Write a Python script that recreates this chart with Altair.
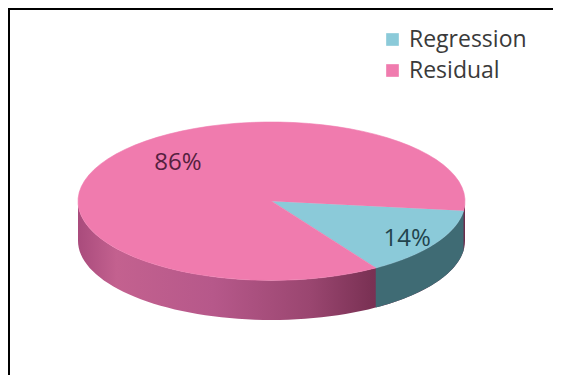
import altair as alt
import pandas as pd

# ---- data ----
names = ["Regression", "Residual"]
values = [14, 86]
top_colors = ["#8BCAD9", "#F07BAE"]
label_colors = ["#22444D", "#55213F"]

START_DEG = 7      # where the first slice starts (clockwise from 3 o'clock)
N = 72             # points per arc
DEPTH = 0.5        # thickness of the 3D side, in y-radius units

slices = pd.DataFrame({"name": names, "value": values, "idx": list(range(len(names)))})

xs = alt.Scale(domain=[-1, 1], nice=False, zero=False)
ys = alt.Scale(domain=[-1, 1 + DEPTH], nice=False, zero=False, reverse=True)


def base():
    return (
        alt.Chart(slices)
        .transform_joinaggregate(total="sum(value)")
        .transform_window(cum="sum(value)", sort=[alt.SortField("idx")], frame=[None, 0])
        .transform_calculate(
            a0=f"{START_DEG}*PI/180 + 2*PI*(datum.cum - datum.value)/datum.total",
            a1=f"{START_DEG}*PI/180 + 2*PI*datum.cum/datum.total",
        )
    )


# full side band (pink, shaded)
side_grad = alt.LinearGradient(
    gradient="linear",
    stops=[
        alt.GradientStop(color="#A94B7C", offset=0),
        alt.GradientStop(color="#C3618F", offset=0.1),
        alt.GradientStop(color="#B6588A", offset=0.35),
        alt.GradientStop(color="#9A4670", offset=0.6),
        alt.GradientStop(color="#7A3154", offset=0.76),
        alt.GradientStop(color="#6E2C4C", offset=1),
    ],
    x1=0, x2=1, y1=0, y2=0,
)

band = (
    alt.Chart(alt.sequence(0, 2 * N + 2, as_="k"))
    .transform_calculate(
        j=f"datum.k <= {N} ? datum.k : {2 * N + 1} - datum.k",
    )
    .transform_calculate(ang=f"PI*datum.j/{N}")
    .transform_calculate(
        px="cos(datum.ang)",
        py=f"sin(datum.ang) + (datum.k > {N} ? {DEPTH} : 0)",
    )
    .mark_line(filled=True, fill=side_grad, strokeWidth=0)
    .encode(
        x=alt.X("px:Q", scale=xs, axis=None),
        y=alt.Y("py:Q", scale=ys, axis=None),
        order=alt.Order("k:Q"),
    )
)

# side of the Regression slice
side_reg = (
    base()
    .transform_filter("datum.name == 'Regression'")
    .transform_calculate(ks=f"sequence(0, {2 * N + 2})")
    .transform_flatten(["ks"], as_=["k"])
    .transform_calculate(j=f"datum.k <= {N} ? datum.k : {2 * N + 1} - datum.k")
    .transform_calculate(ang=f"clamp(datum.a0 + (datum.a1 - datum.a0)*datum.j/{N}, 0, PI)")
    .transform_calculate(
        px="cos(datum.ang)",
        py=f"sin(datum.ang) + (datum.k > {N} ? {DEPTH} : 0)",
    )
    .mark_line(filled=True, fill="#3F6B74", strokeWidth=0)
    .encode(
        x=alt.X("px:Q", scale=xs, axis=None),
        y=alt.Y("py:Q", scale=ys, axis=None),
        order=alt.Order("k:Q"),
    )
)

# top face sectors
top = (
    base()
    .transform_calculate(ks=f"sequence(-1, {N + 1})")
    .transform_flatten(["ks"], as_=["k"])
    .transform_calculate(ang=f"datum.a0 + (datum.a1 - datum.a0)*max(datum.k, 0)/{N}")
    .transform_calculate(
        px="datum.k < 0 ? 0 : cos(datum.ang)",
        py="datum.k < 0 ? 0 : sin(datum.ang)",
    )
    .mark_line(filled=True, strokeWidth=0.6, strokeJoin="round")
    .encode(
        x=alt.X("px:Q", scale=xs, axis=None),
        y=alt.Y("py:Q", scale=ys, axis=None),
        order=alt.Order("k:Q"),
        detail="name:N",
        color=alt.Color(
            "name:N",
            scale=alt.Scale(domain=names, range=top_colors),
            legend=alt.Legend(
                orient="none",
                legendX=303,
                legendY=-94,
                title=None,
                symbolType="square",
                symbolSize=160,
                symbolStrokeWidth=0,
                labelFont="Open Sans",
                labelFontSize=23,
                labelColor="#3A3A3A",
                labelOffset=5,
                rowPadding=7,
                padding=0,
            ),
        ),
        stroke=alt.Stroke("name:N", scale=alt.Scale(domain=names, range=top_colors), legend=None),
    )
)

# percentage labels
labels = (
    base()
    .transform_calculate(mid="(datum.a0 + datum.a1)/2")
    .transform_calculate(
        lx="0.7*cos(datum.mid)",
        ly="0.9*sin(datum.mid)",
        pct="format(datum.value/datum.total, '.0%')",
    )
    .mark_text(font="Open Sans", fontSize=24, dx=21, baseline="middle", align="center")
    .encode(
        x=alt.X("lx:Q", scale=xs, axis=None),
        y=alt.Y("ly:Q", scale=ys, axis=None),
        text="pct:N",
        color=alt.condition(
            "datum.name == 'Regression'",
            alt.value(label_colors[0]),
            alt.value(label_colors[1]),
        ),
    )
)

# frame lines (top and left edge of the picture's box)
one = pd.DataFrame({"a": [0]})
frame_top = alt.Chart(one).mark_rule(color="black", strokeWidth=2).encode(
    x=alt.value(-70), x2=alt.value(480), y=alt.value(-113)
)
frame_left = alt.Chart(one).mark_rule(color="black", strokeWidth=2).encode(
    x=alt.value(-69), y=alt.value(-114), y2=alt.value(260)
)

chart = (
    alt.layer(band, side_reg, top, labels, frame_top, frame_left)
    .properties(
        width=387,
        height=198,
        padding={"left": 70, "top": 114, "right": 88, "bottom": 55},
        autosize=alt.AutoSizeParams(type="none"),
        background="white",
    )
    .configure_view(stroke=None)
)

chart.save("out.html", embed_options={"renderer": "svg", "actions": False})
